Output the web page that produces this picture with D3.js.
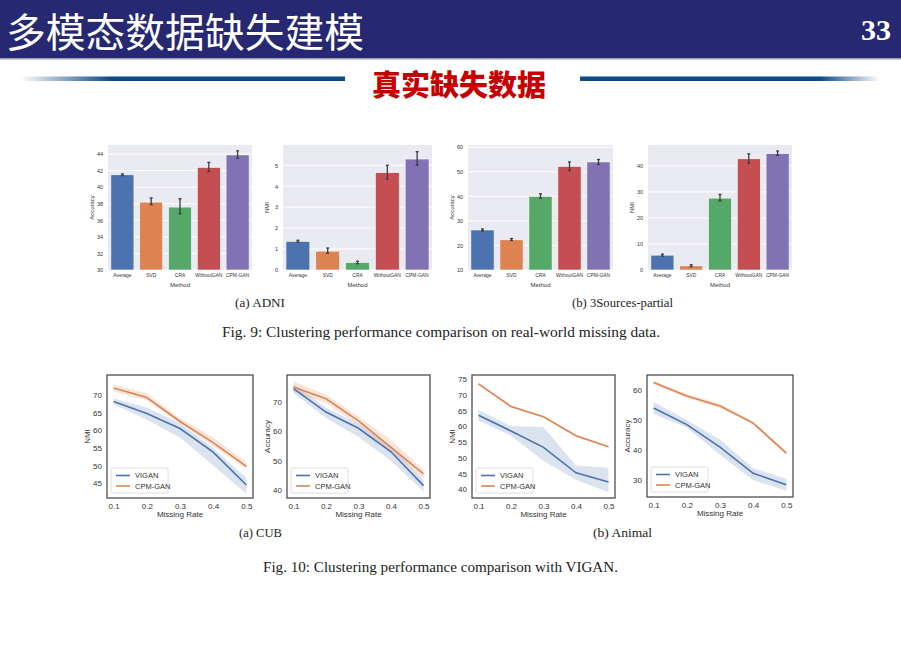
<!DOCTYPE html>
<html><head><meta charset="utf-8">
<script src="https://cdn.jsdelivr.net/npm/d3@7"></script>
<style>body{margin:0;background:#fff}svg{display:block}</style>
</head><body>
<svg id="c" width="901" height="660"></svg>
<script>
// ---------- DATA ----------
const slideTitle = "多模态数据缺失建模";
const pageNumber = "33";
const sectionTitle = "真实缺失数据";

const methods = ["Average", "SVD", "CRA", "WithoutGAN", "CPM-GAN"];
const adniAcc    = [41.5, 38.2, 37.6, 42.4, 43.9];
const adniAccLo  = [41.4, 37.9, 36.8, 41.9, 43.5];
const adniAccHi  = [41.6, 38.7, 38.6, 43.0, 44.4];
const adniAccTicks = [30, 32, 34, 36, 38, 40, 42, 44];

const adniNmi    = [1.37, 0.90, 0.36, 4.65, 5.30];
const adniNmiLo  = [1.33, 0.80, 0.30, 4.35, 5.00];
const adniNmiHi  = [1.42, 1.05, 0.42, 5.00, 5.65];
const adniNmiTicks = [0, 1, 2, 3, 4, 5];

const srcAcc     = [26.3, 22.3, 40.0, 52.2, 54.0];
const srcAccLo   = [25.9, 22.0, 39.2, 50.5, 53.0];
const srcAccHi   = [26.7, 22.8, 41.0, 54.0, 55.0];
const srcAccTicks = [10, 20, 30, 40, 50, 60];

const srcNmi     = [5.7, 1.6, 27.6, 42.7, 44.7];
const srcNmiLo   = [5.3, 1.3, 26.5, 41.0, 44.0];
const srcNmiHi   = [6.1, 2.0, 29.0, 44.6, 45.7];
const srcNmiTicks = [0, 10, 20, 30, 40];

const missingRates = [0.1, 0.2, 0.3, 0.4, 0.5];
const seriesNames = ["VIGAN", "CPM-GAN"];

const cubNmiVigan   = [68.2, 64.8, 60.5, 53.8, 44.5];
const cubNmiViganLo = [67.4, 63.0, 58.0, 50.0, 42.0];
const cubNmiViganHi = [69.0, 66.5, 62.0, 55.0, 46.5];
const cubNmiCpm     = [72.0, 69.3, 62.5, 56.5, 49.8];
const cubNmiCpmLo   = [71.0, 68.5, 62.0, 55.5, 49.0];
const cubNmiCpmHi   = [73.0, 70.5, 63.5, 58.0, 51.0];
const cubNmiTicks = [45, 50, 55, 60, 65, 70];

const cubAccVigan   = [74.5, 66.5, 61.0, 53.0, 41.5];
const cubAccViganLo = [73.0, 64.5, 58.0, 50.0, 39.5];
const cubAccViganHi = [76.0, 68.0, 62.5, 55.0, 43.5];
const cubAccCpm     = [75.0, 71.0, 63.5, 54.5, 45.5];
const cubAccCpmLo   = [73.5, 69.5, 62.0, 53.0, 44.0];
const cubAccCpmHi   = [77.0, 72.5, 65.0, 57.0, 47.0];
const cubAccTicks = [40, 50, 60, 70];

const aniNmiVigan   = [63.5, 58.5, 53.3, 45.2, 42.3];
const aniNmiViganLo = [61.8, 57.0, 49.0, 43.0, 39.0];
const aniNmiViganHi = [65.2, 60.0, 59.8, 47.5, 46.8];
const aniNmiCpm     = [73.5, 66.3, 63.0, 57.0, 53.5];
const aniNmiCpmLo   = [73.2, 66.0, 62.7, 56.7, 53.2];
const aniNmiCpmHi   = [73.8, 66.6, 63.3, 57.3, 53.8];
const aniNmiTicks = [40, 45, 50, 55, 60, 65, 70, 75];

const aniAccVigan   = [54.0, 48.5, 41.0, 32.3, 28.5];
const aniAccViganLo = [52.0, 47.5, 38.5, 30.0, 26.5];
const aniAccViganHi = [56.0, 50.0, 43.5, 34.0, 30.5];
const aniAccCpm     = [62.5, 58.0, 54.7, 49.0, 39.0];
const aniAccCpmLo   = [62.0, 57.3, 54.0, 48.5, 38.5];
const aniAccCpmHi   = [63.0, 58.8, 55.5, 49.5, 39.5];
const aniAccTicks = [30, 40, 50, 60];

const xTicks = [0.1, 0.2, 0.3, 0.4, 0.5];

// ---------- STYLE ----------
const barColors = ["#4C72B0", "#DD8452", "#55A868", "#C44E52", "#8172B3"];
const lineColors = ["#4C72B0", "#DD8452"];
const sans = "'Liberation Sans', Arial, sans-serif";
const serif = "'Liberation Serif', 'Times New Roman', serif";
const cjk = "'Noto Sans CJK SC', sans-serif";

const svg = d3.select("#c");

// ---------- HEADER ----------
svg.append("rect").attr("x", 0).attr("y", 0).attr("width", 901).attr("height", 58).attr("fill", "#262872");
svg.append("rect").attr("x", 0).attr("y", 58).attr("width", 901).attr("height", 1.5).attr("fill", "#9a9aa6");
svg.append("text").attr("x", 6).attr("y", 47).attr("fill", "#fff")
  .attr("textLength", 358).attr("lengthAdjust", "spacingAndGlyphs")
  .style("font-family", cjk).style("font-size", "40px").text(slideTitle);
svg.append("text").attr("x", 891).attr("y", 40).attr("text-anchor", "end").attr("fill", "#fff")
  .style("font-family", serif).style("font-weight", "bold").style("font-size", "30px").text(pageNumber);

const defs = svg.append("defs");
const gl = defs.append("linearGradient").attr("id", "gl");
gl.append("stop").attr("offset", "0").attr("stop-color", "#ffffff");
gl.append("stop").attr("offset", "0.28").attr("stop-color", "#0e4a86");
gl.append("stop").attr("offset", "1").attr("stop-color", "#0e4a86");
const gr = defs.append("linearGradient").attr("id", "gr");
gr.append("stop").attr("offset", "0").attr("stop-color", "#0e4a86");
gr.append("stop").attr("offset", "0.8").attr("stop-color", "#0e4a86");
gr.append("stop").attr("offset", "1").attr("stop-color", "#ffffff");
svg.append("rect").attr("x", 20).attr("y", 76.5).attr("width", 325).attr("height", 4.5).attr("fill", "url(#gl)");
svg.append("rect").attr("x", 580).attr("y", 76.5).attr("width", 300).attr("height", 4.5).attr("fill", "url(#gr)");
svg.append("text").attr("x", 459).attr("y", 96).attr("text-anchor", "middle").attr("fill", "#c40000")
  .style("font-family", cjk).style("font-weight", "900").style("font-size", "29px").text(sectionTitle);

// ---------- BAR CHARTS ----------
function barChart(o) {
  const g = svg.append("g");
  const x = d3.scaleBand().domain(methods).range([o.x0, o.x1]).paddingInner(0.2).paddingOuter(0.1);
  const y = d3.scaleLinear().domain(o.domain).range([o.y1, o.y0]);
  g.append("rect").attr("x", o.x0).attr("y", o.y0).attr("width", o.x1 - o.x0).attr("height", o.y1 - o.y0).attr("fill", "#EAEAF2");
  g.selectAll(".grid").data(o.ticks).join("line")
    .attr("x1", o.x0).attr("x2", o.x1).attr("y1", d => y(d)).attr("y2", d => y(d))
    .attr("stroke", "#fff").attr("stroke-width", 1);
  g.selectAll(".bar").data(o.values).join("rect")
    .attr("x", (d, i) => x(methods[i])).attr("width", x.bandwidth())
    .attr("y", d => y(d)).attr("height", d => o.y1 - y(d))
    .attr("fill", (d, i) => barColors[i]).attr("stroke", "#fff").attr("stroke-width", 0.6);
  const cx = i => x(methods[i]) + x.bandwidth() / 2;
  const eb = g.selectAll(".eb").data(o.values).join("g")
    .attr("stroke", "#3d3d3d").attr("stroke-width", 1.3);
  eb.append("line").attr("x1", (d, i) => cx(i)).attr("x2", (d, i) => cx(i))
    .attr("y1", (d, i) => y(o.lo[i])).attr("y2", (d, i) => y(o.hi[i]));
  eb.append("line").attr("x1", (d, i) => cx(i) - 1.5).attr("x2", (d, i) => cx(i) + 1.5)
    .attr("y1", (d, i) => y(o.lo[i])).attr("y2", (d, i) => y(o.lo[i]));
  eb.append("line").attr("x1", (d, i) => cx(i) - 1.5).attr("x2", (d, i) => cx(i) + 1.5)
    .attr("y1", (d, i) => y(o.hi[i])).attr("y2", (d, i) => y(o.hi[i]));
  const ya = g.append("g").attr("transform", `translate(${o.x0},0)`)
    .call(d3.axisLeft(y).tickValues(o.ticks).tickFormat(d3.format("~g")).tickSize(0).tickPadding(5));
  ya.select(".domain").remove();
  ya.selectAll("text").style("font-family", sans).style("font-size", "5.5px").attr("fill", "#333");
  const xa = g.append("g").attr("transform", `translate(0,${o.y1})`)
    .call(d3.axisBottom(x).tickSize(0).tickPadding(4));
  xa.select(".domain").remove();
  xa.selectAll("text").style("font-family", sans).style("font-size", "4.9px").attr("fill", "#333");
  g.append("text").attr("x", (o.x0 + o.x1) / 2).attr("y", o.y1 + 16.5).attr("text-anchor", "middle")
    .style("font-family", sans).style("font-size", "6px").attr("fill", "#333").text("Method");
  g.append("text").attr("transform", `translate(${o.x0 - 14},${(o.y0 + o.y1) / 2}) rotate(-90)`).attr("text-anchor", "middle")
    .style("font-family", sans).style("font-size", "6px").attr("fill", "#333").text(o.ylabel);
}

barChart({x0: 108, x1: 252, y0: 145, y1: 270, domain: [30, 45.1], ticks: adniAccTicks,
  values: adniAcc, lo: adniAccLo, hi: adniAccHi, ylabel: "Accuracy"});
barChart({x0: 283, x1: 432, y0: 145, y1: 270, domain: [0, 5.97], ticks: adniNmiTicks,
  values: adniNmi, lo: adniNmiLo, hi: adniNmiHi, ylabel: "NMI"});
barChart({x0: 468, x1: 613, y0: 145, y1: 270, domain: [10, 60.9], ticks: srcAccTicks,
  values: srcAcc, lo: srcAccLo, hi: srcAccHi, ylabel: "Accuracy"});
barChart({x0: 648, x1: 792, y0: 145, y1: 270, domain: [0, 48], ticks: srcNmiTicks,
  values: srcNmi, lo: srcNmiLo, hi: srcNmiHi, ylabel: "NMI"});

// ---------- LINE CHARTS ----------
function lineChart(o) {
  const g = svg.append("g");
  const x = d3.scaleLinear().domain([0.08, 0.52]).range([o.x0, o.x1]);
  const y = d3.scaleLinear().domain(o.domain).range([o.y1, o.y0]);
  const series = [
    {v: o.a, lo: o.aLo, hi: o.aHi, c: lineColors[0]},
    {v: o.b, lo: o.bLo, hi: o.bHi, c: lineColors[1]}
  ];
  const area = d3.area().x((d, i) => x(missingRates[i])).y0(d => y(d[0])).y1(d => y(d[1]));
  const line = d3.line().x((d, i) => x(missingRates[i])).y(d => y(d));
  series.forEach(s => {
    g.append("path").datum(s.lo.map((l, i) => [l, s.hi[i]])).attr("d", area)
      .attr("fill", s.c).attr("fill-opacity", 0.2);
  });
  series.forEach(s => {
    g.append("path").datum(s.v).attr("d", line).attr("fill", "none")
      .attr("stroke", s.c).attr("stroke-width", 1.6);
  });
  g.append("rect").attr("x", o.x0).attr("y", o.y0).attr("width", o.x1 - o.x0).attr("height", o.y1 - o.y0)
    .attr("fill", "none").attr("stroke", "#5a5a5a").attr("stroke-width", 1.4);
  const ya = g.append("g").attr("transform", `translate(${o.x0},0)`)
    .call(d3.axisLeft(y).tickValues(o.ticks).tickSize(0).tickPadding(5));
  ya.select(".domain").remove();
  ya.selectAll("text").style("font-family", sans).style("font-size", "8px").attr("fill", "#333");
  const xa = g.append("g").attr("transform", `translate(0,${o.y1})`)
    .call(d3.axisBottom(x).tickValues(xTicks).tickFormat(d3.format(".1f")).tickSize(0).tickPadding(5));
  xa.select(".domain").remove();
  xa.selectAll("text").style("font-family", sans).style("font-size", "8px").attr("fill", "#333");
  g.append("text").attr("x", (o.x0 + o.x1) / 2).attr("y", o.y1 + 18.5).attr("text-anchor", "middle")
    .style("font-family", sans).style("font-size", "8px").attr("fill", "#333").text("Missing Rate");
  g.append("text").attr("transform", `translate(${o.x0 - 17},${(o.y0 + o.y1) / 2}) rotate(-90)`).attr("text-anchor", "middle")
    .style("font-family", sans).style("font-size", "8px").attr("fill", "#333").text(o.ylabel);
  const lg = g.append("g").attr("transform", `translate(${o.x0 + 4},${o.y1 - 30})`);
  lg.append("rect").attr("width", 57).attr("height", 25).attr("rx", 2)
    .attr("fill", "#fff").attr("fill-opacity", 0.8).attr("stroke", "#d6d6d6").attr("stroke-width", 0.8);
  seriesNames.forEach((n, i) => {
    lg.append("line").attr("x1", 5).attr("x2", 19).attr("y1", 7.5 + i * 10.5).attr("y2", 7.5 + i * 10.5)
      .attr("stroke", lineColors[i]).attr("stroke-width", 1.6);
    lg.append("text").attr("x", 24).attr("y", 10.2 + i * 10.5)
      .style("font-family", sans).style("font-size", "7.5px").attr("fill", "#333").text(n);
  });
}

lineChart({x0: 107, x1: 253, y0: 375, y1: 498, domain: [40.8, 75.7], ticks: cubNmiTicks, ylabel: "NMI",
  a: cubNmiVigan, aLo: cubNmiViganLo, aHi: cubNmiViganHi, b: cubNmiCpm, bLo: cubNmiCpmLo, bHi: cubNmiCpmHi});
lineChart({x0: 287, x1: 430, y0: 375, y1: 498, domain: [37.3, 79.1], ticks: cubAccTicks, ylabel: "Accuracy",
  a: cubAccVigan, aLo: cubAccViganLo, aHi: cubAccViganHi, b: cubAccCpm, bLo: cubAccCpmLo, bHi: cubAccCpmHi});
lineChart({x0: 472, x1: 615, y0: 375, y1: 498, domain: [37.2, 76.3], ticks: aniNmiTicks, ylabel: "NMI",
  a: aniNmiVigan, aLo: aniNmiViganLo, aHi: aniNmiViganHi, b: aniNmiCpm, bLo: aniNmiCpmLo, bHi: aniNmiCpmHi});
lineChart({x0: 647, x1: 793, y0: 375, y1: 497, domain: [24.4, 65], ticks: aniAccTicks, ylabel: "Accuracy",
  a: aniAccVigan, aLo: aniAccViganLo, aHi: aniAccViganHi, b: aniAccCpm, bLo: aniAccCpmLo, bHi: aniAccCpmHi});

// ---------- CAPTIONS ----------
function cap(x, y, t, size, len) {
  const e = svg.append("text").attr("x", x).attr("y", y).attr("fill", "#222")
    .style("font-family", serif).style("font-size", size + "px").text(t);
  if (len) e.attr("textLength", len).attr("lengthAdjust", "spacingAndGlyphs");
}
cap(235, 307, "(a) ADNI", 13, 50);
cap(572, 307, "(b) 3Sources-partial", 13, 101);
cap(222, 337, "Fig. 9: Clustering performance comparison on real-world missing data.", 14.5, 438);
cap(239, 537, "(a) CUB", 13, 43);
cap(593, 537, "(b) Animal", 13, 59);
cap(263, 572, "Fig. 10: Clustering performance comparison with VIGAN.", 14.5, 355);
</script>
</body></html>
